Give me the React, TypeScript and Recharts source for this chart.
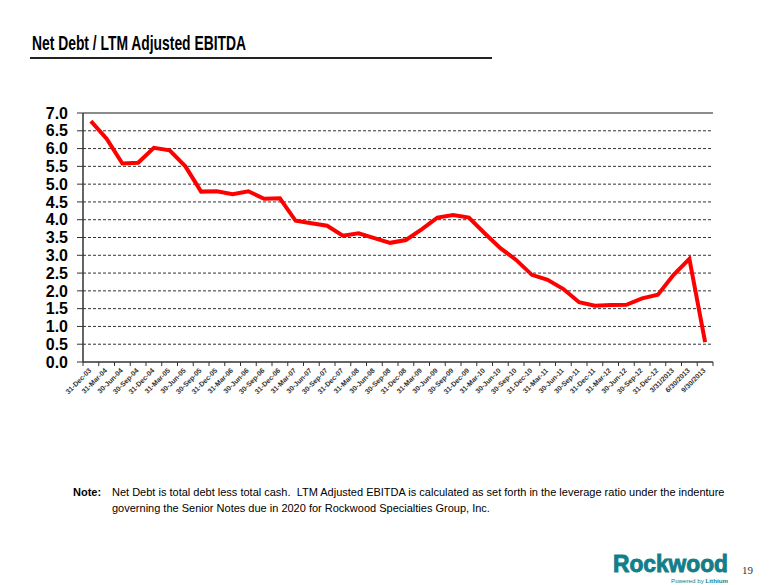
import React from "react";
import {
  LineChart,
  Line,
  XAxis,
  YAxis,
  CartesianGrid,
  ReferenceLine,
} from "recharts";

const categories = [
  "31-Dec-03", "31-Mar-04", "30-Jun-04", "30-Sep-04", "31-Dec-04",
  "31-Mar-05", "30-Jun-05", "30-Sep-05", "31-Dec-05", "31-Mar-06",
  "30-Jun-06", "30-Sep-06", "31-Dec-06", "31-Mar-07", "30-Jun-07",
  "30-Sep-07", "31-Dec-07", "31-Mar-08", "30-Jun-08", "30-Sep-08",
  "31-Dec-08", "31-Mar-09", "30-Jun-09", "30-Sep-09", "31-Dec-09",
  "31-Mar-10", "30-Jun-10", "30-Sep-10", "31-Dec-10", "31-Mar-11",
  "30-Jun-11", "30-Sep-11", "31-Dec-11", "31-Mar-12", "30-Jun-12",
  "30-Sep-12", "31-Dec-12", "3/31/2013", "6/30/2013", "9/30/2013",
];

const leverage = [
  6.77, 6.28, 5.58, 5.6, 6.02,
  5.95, 5.5, 4.79, 4.8, 4.72,
  4.8, 4.59, 4.6, 3.97, 3.9,
  3.83, 3.55, 3.62, 3.48, 3.35,
  3.43, 3.73, 4.06, 4.13, 4.06,
  3.62, 3.2, 2.87, 2.45, 2.31,
  2.05, 1.68, 1.58, 1.6, 1.61,
  1.79, 1.89, 2.45, 2.9, 0.56,
];

const yTicks = [0, 0.5, 1, 1.5, 2, 2.5, 3, 3.5, 4, 4.5, 5, 5.5, 6, 6.5, 7];
const gridValues = [0.5, 1, 1.5, 2, 2.5, 3, 3.5, 4, 4.5, 5, 5.5, 6, 6.5];

const data = categories.map((c, i) => ({ date: c, value: leverage[i] }));

const FONT = "'Liberation Sans', Arial, Helvetica, sans-serif";

const XTick = (props: any) => {
  const { x, y, payload, index } = props;
  const half = payload && typeof payload.offset === "number" && payload.offset > 0 ? payload.offset : 7.875;
  const last = index === categories.length - 1;
  return (
    <g>
      <line x1={x - half} y1={y} x2={x - half} y2={y + 4} stroke="#333" strokeWidth={1} />
      {last && <line x1={x + half} y1={y} x2={x + half} y2={y + 4} stroke="#333" strokeWidth={1} />}
      <text
        x={x + 1}
        y={y + 9}
        transform={`rotate(-45, ${x + 1}, ${y + 9})`}
        textAnchor="end"
        fontSize={7}
        fontWeight="bold"
        fill="#333"
        fontFamily={FONT}
      >
        {payload.value}
      </text>
    </g>
  );
};

export default function App() {
  return (
    <div style={{ position: "absolute", left: 0, top: 0, width: 780, height: 585, background: "#fff", fontFamily: FONT }}>
      <svg width={780} height={585} style={{ position: "absolute", left: 0, top: 0 }}>
        <text
          x={32}
          y={50}
          fontSize={21}
          fontWeight="bold"
          fill="#000"
          fontFamily={FONT}
          textLength={214}
          lengthAdjust="spacingAndGlyphs"
        >
          Net Debt / LTM Adjusted EBITDA
        </text>
        <line x1={30} y1={58} x2={492} y2={58} stroke="#222" strokeWidth={2} />
        <text
          x={613}
          y={572}
          fontSize={23}
          fontWeight="bold"
          fill="#137E8A"
          stroke="#137E8A"
          strokeWidth={0.9}
          fontFamily={FONT}
          textLength={115}
          lengthAdjust="spacingAndGlyphs"
        >
          Rockwood
        </text>
        <text
          x={671}
          y={583}
          fontSize={6}
          fill="#137E8A"
          fontFamily={FONT}
          textLength={57}
          lengthAdjust="spacingAndGlyphs"
        >
          Powered by <tspan fontWeight="bold">Lithium</tspan>
        </text>
        <text x={742} y={574} fontSize={11} fill="#333" fontFamily="'Liberation Serif', 'Times New Roman', serif">
          19
        </text>
      </svg>
      <div style={{ position: "absolute", left: 0, top: 0 }}>
        <LineChart
          width={780}
          height={420}
          data={data}
          margin={{ top: 113, right: 67, bottom: 8, left: 0 }}
        >
          <CartesianGrid
            horizontal={true}
            vertical={false}
            horizontalValues={gridValues}
            stroke="#333"
            strokeDasharray="3 2"
          />
          <XAxis
            dataKey="date"
            scale="band"
            interval={0}
            tickLine={false}
            tickSize={0}
            tickMargin={0}
            height={50}
            axisLine={{ stroke: "#333", strokeWidth: 1.5 }}
            tick={<XTick />}
          />
          <YAxis
            domain={[0, 7]}
            ticks={yTicks}
            interval={0}
            width={83}
            tickSize={6}
            tickMargin={9}
            tickLine={{ stroke: "#333" }}
            axisLine={{ stroke: "#333", strokeWidth: 1.5 }}
            tickFormatter={(v: number) => v.toFixed(1)}
            tick={{ fontSize: 16, fontWeight: "bold", fill: "#000", fontFamily: FONT }}
          />
          <YAxis
            yAxisId="r"
            orientation="right"
            domain={[0, 7]}
            width={0}
            tick={false}
            tickLine={false}
            axisLine={{ stroke: "#444", strokeWidth: 1.5 }}
          />
          <ReferenceLine y={7} stroke="#666" strokeWidth={1.5} />
          <Line
            type="linear"
            dataKey="value"
            stroke="#FF0000"
            strokeWidth={4}
            dot={false}
            activeDot={false}
            isAnimationActive={false}
          />
        </LineChart>
      </div>
      <div style={{ position: "absolute", left: 73, top: 484, fontSize: 11, lineHeight: "16px", fontWeight: "bold", color: "#000" }}>
        Note:
      </div>
      <div
        style={{
          position: "absolute",
          left: 112,
          top: 484,
          width: 640,
          fontSize: 11,
          lineHeight: "16px",
          color: "#000",
          whiteSpace: "pre-wrap",
        }}
      >
        {"Net Debt is total debt less total cash.  LTM Adjusted EBITDA is calculated as set forth in the leverage ratio under the indenture\ngoverning the Senior Notes due in 2020 for Rockwood Specialties Group, Inc."}
      </div>
    </div>
  );
}
